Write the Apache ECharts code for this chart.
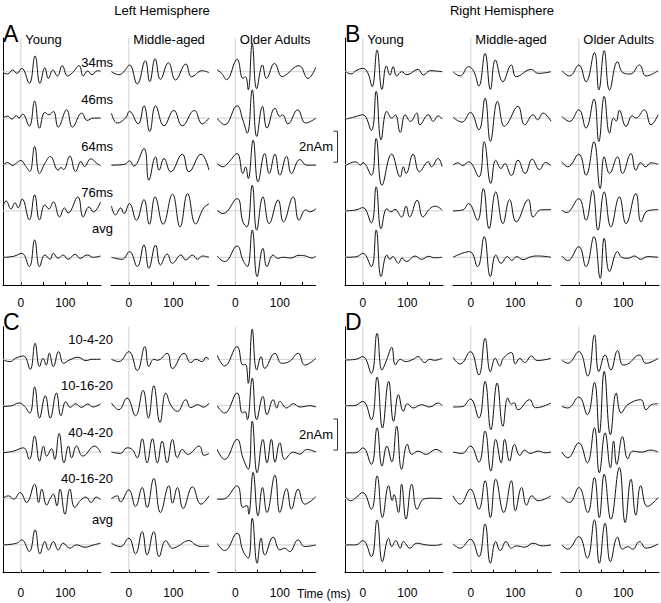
<!DOCTYPE html>
<html><head><meta charset="utf-8">
<script src="https://cdn.jsdelivr.net/npm/echarts@6/dist/echarts.min.js"></script>
<style>html,body{margin:0;padding:0;background:#fff}#c{width:661px;height:603px}</style>
</head><body><div id="c"></div>
<script>
// ---------- data (time in ms, amplitude in figure units; UNITS_PER_NAM units = 1 nAm) ----------
const TIME_MIN = -40, TIME_MAX = 180;
const groups = ['Young', 'Middle-aged', 'Older Adults'];
const panelLetters = ['A', 'B', 'C', 'D'];
const hemispheres = ['Left Hemisphere', 'Right Hemisphere'];
const rowLabelsAB = ['34ms', '46ms', '64ms', '76ms', 'avg'];
const rowLabelsCD = ['10-4-20', '10-16-20', '40-4-20', '40-16-20', 'avg'];
const xTickValues = [0, 50, 100, 150];
const xLabelValues = [0, 100];
const xAxisTitle = 'Time (ms)';
const scaleBarNAm = 2;
const scaleBarLabel = '2nAm';
const UNITS_PER_NAM = 15.5;

// each waveform: [t0, v0, t1, v1, ...] (peaks/troughs)
const A_young = [
 [-40,-1,-30,-2.3,-18,1.7,-9,-1.7,2,3.3,19,-11.7,32,15.7,43,-11.7,54,4,62,-6.7,72,1.7,82,-4.3,93,6,105,-4.3,116,-1,131,6,140,-4.3,150,0.7,160,-3,172,1,179,0.7],
 [-40,0,-30,2,-20,-1,-10,2.5,-4,0,4,4,19,-8,31,17,42,-10,54,5.7,63,3.3,73,6.7,84,-9,103,8.3,116,-9,137,5,149,-2.3,163,0,179,0],
 [-40,-1,-30,2,-18,-1,-10,1.5,0,4,10,-1,20,-7,31,18,42,-9,55,2,66,8,84,-5.7,90,-3,96,-5,110,8.3,123,-7,135,3,143,-2,157,5.7,171,1,179,-1.3],
 [-40,5,-33,10,-22,2,-13,8,-6,3,3,12,19,-9,31,16,42,-9,54,6,63,2,73,9,87,-6,98,3,106,-2,128,14,140,-6,153,4,163,-1,179,9],
 [-40,0,-16,1,2,4,19,-9.3,31,17.3,42,-9.3,54,2.3,66,-2,73,4,84,-1,95,2.3,106,-2,122,3,133,-1,149,2.3,163,0,179,1.3]
];
const A_mid = [
 [-39,0,-22.5,-3,-11,0,1.5,6.7,19,-12.3,37,11,47,-10,59,13,71,-7.7,89,9,105,-8.3,128,7.7,141,-5,165,1,180,-1],
 [-39,5,-26,-5,-7.5,0,1.5,6.7,21,-5.7,34,12.3,47,-13.3,60,12.3,79,-7.7,101,7.7,120,-7.7,147,7.7,165,-5.7,180,0],
 [-39,-0.7,-10,0,1.5,3.7,11,-1.7,34,16,45,-15.7,60,7.7,68,-5.7,79,6,94,-7.3,120,10.3,135,-7.3,162,10.3,180,-5.7],
 [-39,5,-30,-4,-18,3,-11,-2.7,1.5,7.3,17,-9.3,34,11.3,46,-13.3,59,14,77,-13.3,98,16.7,115,-16,132,17.3,150,-13,168,3,180,7],
 [-39,0,-15,-2,1.5,5.7,19,-9.3,34,12.3,45,-11,60,12.3,71,-7.7,86,3.3,98,-6,117,2.3,128,-2.7,143,2.3,154,-2,165,1.3,180,0]
];
const A_old = [
 [-41,2,-30,-2,-20,-8,4,12.3,17,-6.7,23,-5,29,-18,38,28.3,48,-17,61,6.7,70,-6.7,88,8.3,105,-5,113,-3.3,143,6,163,-6.7,181,4.7],
 [-41,0,-24,-6.7,4,12.3,17,-2,27,-15,38,28.3,48,-18.3,61,11.7,71,-10,89,10,100,1.7,106,3.3,118,-5.7,140,8.3,158,-5,181,0],
 [-41,1,-28,-2.3,-16,1.7,4,11,17,-9,23,-2.3,29,-14,40,24.3,51,-17.3,66,11,76,-9,89,10.3,100,-10.7,115,8.3,126,-9,145,5,160,-0.7,181,-0.7],
 [-41,0.7,-28,-2.7,4,12.3,17,-11,26,-16,38,25.7,48,-19.3,62,14,76,-12.7,96,11,108,-11,130,14,143,-9.3,158,1,168,-1,181,2.3],
 [-41,1.3,-24,-4.3,4,11.3,17,-2.7,27,-9.3,38,27.3,49,-19.3,62,9,71,-9.3,85,2.3,95,-1,107,0,124,-0.7,143,2,158,1.3,172,-0.7,181,1.3]
];
const B_young = [
 [-38,0,-27,-2.3,-15,1,0,3.3,11,-1,21,-15,32,21.7,43,-17.7,53,5.7,61,-3.3,68,5,76,-4.3,87,0,99,-3,124,2.3,136,-3.3,151,1,178,0],
 [-38,-1,-20,1,0,3.3,19,-12.3,30,26.7,41,-21.7,54,6.7,65,0,73,3.3,84,-14.3,95,3.3,107,-3.3,121,5,128,-6.7,147,3.3,158,-3.3,169,2.3,178,-1],
 [-38,-0.7,-16,2.7,-5,-0.7,0,2,19,-10.7,30,26,43,-20.7,65,10.3,84,-12.3,91,-2.3,97,-9,113,10.3,127,-7.3,147,2.7,154,-2.3,169,6,178,-2.3],
 [-38,0,-15,1,0,3.3,19,-12,30,24,41,-17.7,54,2.3,63,-1,72,1.5,87,-6,97,4.7,105,-6,122,10.7,135,-6,150,2,163,4.7,178,0.7],
 [-38,0,-15,0.5,0,4,19,-9.3,30,27.3,41,-19.3,54,2.3,61,-2,67,0.7,80,-6,88,-0.7,98,-4.3,117,1.3,132,-2,148,1,161,-0.5,178,0]
];
const B_mid = [
 [-40,0,-24,-4.3,-5,5,7,0,18,-14.3,32,18.3,44,-17.7,55,11.7,72,-10,91,6.7,102,-5,136,2.3,151,-1.7,180,0],
 [-40,1,-20,-4,-1,5.7,18,-11.7,32,20,44,-23.3,60,16.7,75,-8.3,83,-5,106,11.7,121,-6.7,140,3.3,150,-1.7,162,5,180,-3.3],
 [-40,-0.7,-29,1.7,-18,-1,-5,2.7,18,-12.3,30,22.7,45,-19,56,4.3,68,-4,76,1,91,-11,106,4.3,122,-9,138,5.3,154,-5,168,2,180,-1.3],
 [-40,0,-18,1,-5,7.3,15,-9.3,28,22.3,41,-17.7,56,19,72,-12.7,87,11.3,102,-11,129,11.3,140,-6,157,1,180,1.3],
 [-40,0,-3,5.7,15,-9.3,30,20.7,44,-19.3,56,2.3,68,-6,82,0.7,92,-3,103,0.7,117,-2.3,136,0.7,152,1.3,180,0]
];
const B_old = [
 [-38,1,-21,-4.3,0,6.7,16,-10,35,19,45,-18.3,57,21,69,-18.3,87,10,99,-1,116,-2.3,136,6.7,151,-4.3,178,1],
 [-38,1.7,-21,-3.3,0,8.3,16,-10,34,19,45,-23.3,57,21.7,69,-15,78,0,84,-3,91,7.7,106,-8.3,120,2.3,128,0,147,8.3,162,-6.7,178,3.3],
 [-38,2.7,-25,-2.3,0,10.3,16,-10.7,34,22.7,48,-24,57,7.7,69,-9,87,7.7,98,-9,117,11,128,-5.7,139,1.7,150,-2.3,162,1.7,178,0.3],
 [-38,0.7,-28,-1.7,0,12.3,16,-9.3,31,20.7,43,-19.3,57,19,72,-16,91,14,106,-12.7,128,17.3,140,-11,154,0,178,1.3],
 [-38,1.3,-25,-3.3,0,10.7,16,-9.3,34,20.7,48,-21,57,19,69,-14.3,87,5.7,96,0,110,-1,125,1.3,139,-2,154,0.7,178,0]
];
const C_young = [
 [-40,-0.7,-24,-2.3,-12,1,6,3.3,21,-10,32,16,42,-7.3,50,1,57,-5.7,64,6,73,-7.3,85,7.7,96,-4,110,-0.5,129,2,146,-1.3,160,0,179,0],
 [-40,-0.7,-20,0,-5,2.7,6,0.5,20,-7.3,31,18.7,42,-12.3,55,10,66,-12.3,80,12.7,90,-10,101,4,111,-1.7,123,2,136,-1.7,150,1.7,162,-1.3,179,2],
 [-40,-0.7,-16,1,6,4.3,19,-7.3,31,16,42,-9,51,6,58,-4,69,3.3,76,-7.3,86,18.7,97,-10.7,107,6,114,-5.7,125,6,139,-4,166,6,179,-0.7],
 [-40,0,-28,2.7,-16,-0.7,-1.5,6,13,-4,31,14.3,40,-4,47,9.3,58,-6.7,66,0,73,4.3,81,-7.3,88,9.3,99,-15.7,110,9.3,121,-9,134,-2,146,1.5,158,-4,169,1.5,179,-1],
 [-40,0,-9,1.7,2,5,19,-6.7,32,15,43,-9,54,3.3,62,-5,73,3.3,84,-5,95,1.7,110,-3.3,125,0,144,-2.3,163,0,179,1.7]
];
const C_mid = [
 [-39,0,-22.5,-2.3,0,7.7,19,-11.3,36,12.7,45,-7.3,56,0,64,-1,86,6,98,-9.3,124,6,139,-3.3,150,0,165,-2.3,173,2,180,0],
 [-39,2.7,-22.5,-4,-4,7.7,15,-10,32,15.3,44,-12.3,56,20,70,-16.7,83,12.7,95,0,109,-5.7,128,6,139,-2,155,1,168,-1.5,180,2.7],
 [-39,0,-19,-1.3,-4,4.3,8,2.5,19,-5.7,30,13.3,41,-10.7,53,13.3,64,-10.7,75,11,86,-10.7,98,12.7,109,-5.7,120,2.7,132,-2.3,158,6,169,-3.3,180,-1.3],
 [-39,0,-26,2.7,-19,-3.3,0,8.7,15,-8,30,11,41,-9,56,20,71,-14,90,12.7,98,-4.7,109,11,122,-10,143,11.7,162,-5.7,180,2.7],
 [-39,1.7,-19,-1.7,0,6.7,15,-9,30,13.3,41,-10,56,13.3,68,-11.7,83,4.3,98,-3.3,109,-1.7,135,4.3,150,0,165,-1.7,180,-1]
];
const C_old = [
 [-41,4.3,-24,-6.7,4,12.7,17,-5.7,23,-5,29,-24,38,30,48,-10.7,58,2.7,66,-9,89,6,104,-4,122,-2,141,6,156,-5.7,181,1],
 [-41,0,-24,-7.3,4,12.7,16,-7.3,22,-6,27,-14,38,27.7,48,-14,62,9.3,71,-9,85,6,93,-2.3,100,4.3,115,-2.3,130,2,145,-1.3,168,0,181,-1.3],
 [-41,2.7,-24,-7.3,4,12.7,17,-5.7,29,-17.3,38,31,49,-20.7,62,12.7,71,-10.7,81,12.7,89,-10,100,9.3,111,-7.3,130,0,145,-2,160,2.7,181,0],
 [-41,-0.7,-28,-0.7,4,12.7,17,-9,26,-7,30,-15.7,40,26,51,-17.3,61,11,71,-14,89,23.3,100,-14,115,10,126,-10.7,141,9.3,156,-5.7,181,2],
 [-41,1.7,-24,-5.7,4,11.7,17,-5.7,29,-13.3,38,26.7,49,-18.3,58,6.7,66,-10,85,7.7,100,-5,111,-3.3,122,-6.7,141,5,156,-1.7,181,0]
];
const D_young = [
 [-38,-0.7,-16,0,0,2.7,19,-14,32,26,43,-10.7,54,0,65,12,73,-5.7,84,0,96,-2.3,113,0,124,2.7,139,-3.3,150,0,161,-1,178,1],
 [-38,0,-20,0,0,4.3,19,-14,32,28.7,44,-22.3,58,24.3,69,-15.7,80,11,91,-5.7,100,2,113,-2.3,132,1,150,-1.3,169,2.7,178,0],
 [-38,-0.7,-16,-0.7,0,4.3,19,-12.3,32,24.3,43,-14,54,6,65,-9.7,76,26,87,-17.3,100,7.7,110,-2.3,124,1,142,-2.3,164,2.7,178,-0.7],
 [-38,1,-27,-2.3,-15,1,0,6,19,-10.7,32,22.7,44,-19,58,12.7,66,-2,70,4,80,-14,87,14.3,97,-20.7,110,14.3,122,-10.7,137,-0.5,155,0.3,178,0],
 [-38,0,-16,0,0,4.3,19,-11.7,32,25,44,-16.7,58,6.7,65,-1.7,74,4.3,84,-3.3,91,3.3,106,-3.3,121,1.7,142,0,163,-0.5,178,1]
];
const D_mid = [
 [-40,2,-24,-4.7,-1,7.7,18,-15.7,32,21,44,-12.3,55,1,65,-6.7,73,1,91,6.7,100,-4.7,110,1,121,-3.3,136,3.3,149,-1.3,180,1],
 [-40,-1.3,-20,-1,-1,6.7,18,-12.3,32,24.3,45,-24,59,22.7,72,-20.7,83,7.7,91,1.5,97,3,106,-4,132,6,145,-2,160,-1,180,2.7],
 [-40,0,-20,-1.3,-1,6,18,-10,32,21,45,-19,56,12.7,68,-10.7,76,12.7,87,-9,98,7.7,110,-3.3,121,2,133,-1.3,152,1,167,-0.7,180,0],
 [-40,2.7,-24,-5.7,-1,9.3,18,-10.7,32,17.7,44,-19,56,19.3,74,-14,91,17.7,100,-12.3,114,11,125,-6.7,137,2.7,151,-2.3,180,2.7],
 [-40,1,-24,-3.3,-1,5.7,18,-11.7,32,21,44,-18.3,56,3.3,66,-5.7,79,3.3,91,-3.3,102,-1,121,-2.3,140,1.7,160,-1,180,0]
];
const D_old = [
 [-38,-0.7,-25,-4,0,7.7,20,-16.7,35,24.3,45,-12.3,59,4.3,72,-10.7,87,8.7,99,-5.7,110,-4.7,136,4.3,151,-4,178,1],
 [-38,-0.7,-25,-2.3,0,8.7,19,-9,35,23.3,46,-27.3,57,34.3,71,-29,84,12.7,95,-7.3,110,1,139,6,151,-4,163,1,178,2],
 [-38,0,-25,-5.7,0,9.3,19,-10.7,35,24.3,46,-20.7,59,19.3,71,-15.7,78,11,85,-12.3,98,15.3,110,-6.7,121,1,140,0,162,2,178,0],
 [-38,2,-21,-4,0,11,20,-14,35,21,46,-19,57,24.3,72,-20.7,91,31,104,-24,117,19.3,128,-16.7,139,12.7,154,-8,178,1],
 [-38,0,-25,-4.3,0,8.3,19,-13.3,35,25,46,-18.3,59,21.7,71,-16.7,87,7.7,98,-4.3,110,-1.7,121,-4.3,136,3.3,151,-3.3,178,1]
];

// ---------- layout ----------
const FONT = '"Liberation Sans", Arial, Helvetica, sans-serif';
const colLefts = [[3, 111, 217.5], [345, 453, 561]];
const COL_W = 98;
const frameTop = [38, 326.7], frameBottom = [285, 572.7];
const base0 = [71.7, 359.3], ROW_STEP = 46.4, H = 50;
const rowLabelY = [[62, 99.7, 146.2, 192.7, 228.7], [339.3, 385.5, 432, 478.3, 519]];
const bracketCenter = [146.7, 434.5];
const labelMargin = [12, 14];

const panels = [
  {letter: panelLetters[0], half: 0, level: 0, cols: [A_young, A_mid, A_old], rowLabels: rowLabelsAB},
  {letter: panelLetters[1], half: 1, level: 0, cols: [B_young, B_mid, B_old], rowLabels: null},
  {letter: panelLetters[2], half: 0, level: 1, cols: [C_young, C_mid, C_old], rowLabels: rowLabelsCD},
  {letter: panelLetters[3], half: 1, level: 1, cols: [D_young, D_mid, D_old], rowLabels: null}
];

const grids = [], xAxes = [], yAxes = [], series = [], graphics = [];
function addGrid(g, xa, ya) {
  grids.push(Object.assign({containLabel: false}, g));
  const i = grids.length - 1;
  xAxes.push(Object.assign({gridIndex: i}, xa));
  yAxes.push(Object.assign({gridIndex: i}, ya));
  return i;
}
function pairs(flat) { const out = []; for (let i = 0; i < flat.length; i += 2) out.push([flat[i], flat[i + 1]]); return out; }
function txt(text, x, y, size, align, valign) {
  graphics.push({type: 'text', x: x, y: y, silent: true,
    style: {text: text, font: size + 'px ' + FONT, fill: '#000',
      align: align, verticalAlign: valign, textAlign: align, textVerticalAlign: valign}});
}
const hiddenX = {type: 'value', min: TIME_MIN, max: TIME_MAX, show: false};

panels.forEach(p => {
  const lefts = colLefts[p.half];
  p.cols.forEach((waves, c) => {
    const left = lefts[c];
    const fi = addGrid({left: left, top: frameTop[p.level], width: COL_W, height: frameBottom[p.level] - frameTop[p.level]},
      {type: 'value', min: TIME_MIN, max: TIME_MAX,
        axisLine: {show: true, onZero: false, lineStyle: {color: '#000', width: 1}},
        axisTick: {show: true, inside: true, length: 3, customValues: xTickValues, lineStyle: {color: '#000', width: 1}},
        axisLabel: {show: true, customValues: xLabelValues, margin: labelMargin[p.level], fontSize: 12, fontFamily: FONT, color: '#000',
          formatter: v => (xLabelValues.indexOf(v) >= 0 ? String(v) : '')},
        splitLine: {show: false}},
      {type: 'value', min: 0, max: 1,
        axisLine: {show: c === 0, onZero: false, lineStyle: {color: '#000', width: 1}},
        axisTick: {show: false}, axisLabel: {show: false}, splitLine: {show: false}});
    series.push({type: 'line', xAxisIndex: fi, yAxisIndex: fi, data: [[0, 0], [0, 1]], symbol: 'none', silent: true,
      lineStyle: {color: '#d0d0d0', width: 1}, z: 1, animation: false});
    waves.forEach((w, r) => {
      const base = base0[p.level] + r * ROW_STEP;
      const wi = addGrid({left: left, top: base - H, width: COL_W, height: 2 * H},
        hiddenX, {type: 'value', min: -H, max: H, show: false});
      series.push({type: 'line', xAxisIndex: wi, yAxisIndex: wi, data: [[TIME_MIN, 0], [TIME_MAX, 0]], symbol: 'none', silent: true,
        lineStyle: {color: '#d0d0d0', width: 1}, z: 1, animation: false});
      series.push({type: 'line', xAxisIndex: wi, yAxisIndex: wi, data: pairs(w), smooth: 0.45, symbol: 'none', silent: true,
        clip: true, lineStyle: {color: '#111', width: 1}, z: 3, animation: false});
    });
    if (p.level === 0) txt(groups[c], left + 17.8 + 4.5, 39.3, 13, 'left', 'middle');
  });
  txt(p.letter, colLefts[p.half][0], p.level === 0 ? 33.5 : 321.5, 23, 'left', 'middle');
  if (p.rowLabels) p.rowLabels.forEach((lab, r) => txt(lab, 113, rowLabelY[p.level][r], 13, 'right', 'middle'));
});

bracketCenter.forEach(cy => {
  const bi = addGrid({left: 333.5, top: cy - H, width: 4, height: 2 * H},
    {type: 'value', min: 0, max: 1, show: false}, {type: 'value', min: -H, max: H, show: false});
  const half = scaleBarNAm * UNITS_PER_NAM / 2;
  series.push({type: 'line', xAxisIndex: bi, yAxisIndex: bi, data: [[0, half], [1, half], [1, -half], [0, -half]],
    symbol: 'none', silent: true, lineStyle: {color: '#333', width: 1}, animation: false});
  txt(scaleBarLabel, 333, cy, 13, 'right', 'middle');
});

txt(hemispheres[0], 162, 10, 13, 'center', 'middle');
txt(hemispheres[1], 502, 10, 13, 'center', 'middle');
txt(xAxisTitle, 297, 594, 12, 'left', 'middle');

const chart = echarts.init(document.getElementById('c'), null, {renderer: 'svg', width: 661, height: 603});
chart.setOption({animation: false, backgroundColor: '#fff', grid: grids, xAxis: xAxes, yAxis: yAxes, series: series, graphic: graphics});
</script>
</body></html>
